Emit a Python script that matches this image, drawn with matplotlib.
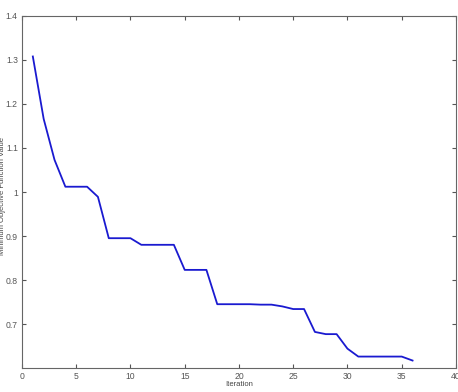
import matplotlib
matplotlib.use("Agg")
import matplotlib.pyplot as plt

iterations = list(range(1, 37))
min_obj = [1.308, 1.166, 1.073, 1.012, 1.012, 1.012, 0.989, 0.895, 0.895, 0.895,
           0.880, 0.880, 0.880, 0.880, 0.823, 0.823, 0.823, 0.745, 0.745, 0.745,
           0.745, 0.744, 0.744, 0.740, 0.734, 0.734, 0.682, 0.677, 0.677, 0.644,
           0.626, 0.626, 0.626, 0.626, 0.626, 0.617]
xticks = [0, 5, 10, 15, 20, 25, 30, 35, 40]
yticks = [0.7, 0.8, 0.9, 1.0, 1.1, 1.2, 1.3, 1.4]
ytick_labels = ["0.7", "0.8", "0.9", "1", "1.1", "1.2", "1.3", "1.4"]

plt.rcParams['font.family'] = ['Liberation Sans', 'DejaVu Sans']
fig = plt.figure(figsize=(4.58, 3.92), dpi=100)
ax = fig.add_axes([0.048, 0.0612, 0.9475, 0.898])
ax.plot(iterations, min_obj, color='#1a1ad0', linewidth=1.3)
ax.set_xlim(0, 40)
ax.set_ylim(0.6, 1.4)
ax.set_xticks(xticks)
ax.set_yticks(yticks)
ax.set_yticklabels(ytick_labels)
ax.tick_params(direction='in', top=True, right=True, labelsize=6.2, colors='#555555',
               length=3, width=0.8, pad=3)
for s in ax.spines.values():
    s.set_color('#666666')
    s.set_linewidth(0.8)
ax.set_xlabel('Iteration', fontsize=5.5, color='#444444', labelpad=0)
fig.text(-0.002, 0.5, 'Minimum Objective Function Value', rotation=90,
         ha='left', va='center', fontsize=5.5, color='#444444')
fig.savefig('out.png', dpi=100)
